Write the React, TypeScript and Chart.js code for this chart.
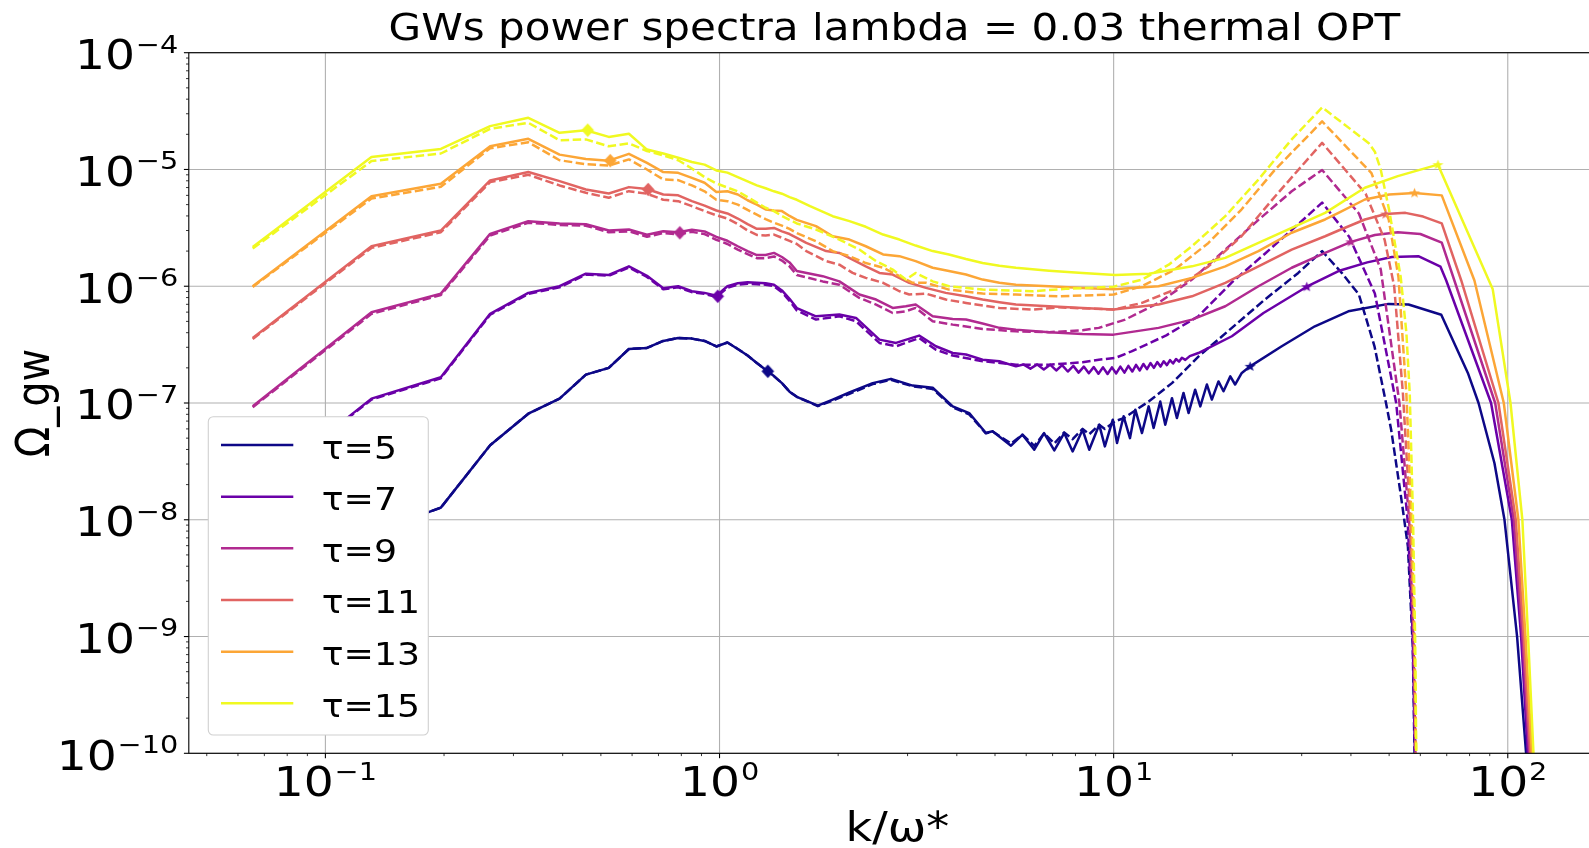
import React, { useEffect, useRef } from "react";
import { Chart, registerables } from "chart.js";

Chart.register(...registerables);

// ---------------- text & categories ----------------
const TITLE = "GWs power spectra lambda = 0.03 thermal OPT";
const X_LABEL = "k/ω*";
const Y_LABEL = "Ω_gw";
const TAUS = [5, 7, 9, 11, 13, 15];
const COLORS = ["#0d0887", "#6a00a8", "#b12a90", "#e16462", "#fca636", "#f0f921"];

// axis limits and labelled ticks
const X_MIN = 0.04502;
const X_MAX = 171.4;
const Y_MIN = 1e-10;
const Y_MAX = 1e-4;
const X_TICKS = [0.1, 1, 10, 100];
const Y_TICKS = [1e-10, 1e-9, 1e-8, 1e-7, 1e-6, 1e-5, 1e-4];

// ---------------- series values: [k/ω*, Ω_gw] ----------------
const tau5Solid: [number, number][] = [
  [0.0654, 1.2e-9], [0.1309, 7.7e-9], [0.1963, 1.27e-8], [0.2618, 4.35e-8], [0.3272, 8.1e-8],
  [0.3927, 1.09e-7], [0.4581, 1.75e-7], [0.5236, 2.0e-7], [0.589, 2.9e-7], [0.6545, 2.96e-7],
  [0.7199, 3.4e-7], [0.7854, 3.6e-7], [0.8508, 3.56e-7], [0.9163, 3.4e-7], [0.9817, 3.05e-7],
  [1.0472, 3.3e-7], [1.1126, 2.9e-7], [1.1781, 2.55e-7], [1.2435, 2.2e-7], [1.309, 1.93e-7],
  [1.3744, 1.7e-7], [1.4399, 1.48e-7], [1.5053, 1.25e-7], [1.5708, 1.13e-7], [1.776, 9.5e-8],
  [1.937, 1.07e-7], [2.136, 1.23e-7], [2.447, 1.48e-7], [2.723, 1.61e-7], [3.09, 1.41e-7],
  [3.474, 1.35e-7], [3.905, 9.36e-8], [4.3, 8.2e-8], [4.74, 5.53e-8], [4.93, 5.72e-8],
  [5.49, 4.31e-8], [5.87, 5.35e-8], [6.29, 3.98e-8], [6.66, 5.53e-8], [7.07, 3.93e-8],
  [7.49, 5.53e-8], [7.87, 3.85e-8], [8.34, 5.9e-8], [8.67, 3.98e-8], [9.19, 6.52e-8],
  [9.5, 4.25e-8], [9.95, 7.2e-8], [10.2, 4.54e-8], [10.6, 7.69e-8], [11.0, 5.0e-8],
  [11.35, 8.77e-8], [11.8, 5.53e-8], [12.27, 9.36e-8], [12.63, 6.1e-8], [13.13, 1.03e-7],
  [13.52, 6.52e-8], [14.06, 1.1e-7], [14.47, 7.43e-8], [15.04, 1.22e-7], [15.49, 8.2e-8],
  [16.1, 1.3e-7], [16.59, 9.36e-8], [17.24, 1.44e-7], [17.75, 1.07e-7], [18.45, 1.53e-7],
  [19.0, 1.26e-7], [19.77, 1.69e-7], [20.33, 1.44e-7], [21.14, 1.81e-7], [22.2, 2.06e-7],
  [26.7, 3.06e-7], [32.4, 4.54e-7], [39.4, 6.1e-7], [49.8, 7.06e-7], [56, 6.97e-7],
  [67.8, 5.7e-7], [79.2, 1.81e-7], [84.3, 1e-7], [92.5, 3.06e-8], [98.1, 1e-8],
  [105.6, 1e-9], [111.3, 1e-10], [113, 1e-12],
];
const tau5Dashed: [number, number][] = [
  [0.0654, 1.2e-9], [0.1309, 7.7e-9], [0.1963, 1.27e-8], [0.2618, 4.35e-8], [0.3272, 8.1e-8],
  [0.3927, 1.09e-7], [0.4581, 1.75e-7], [0.5236, 2.0e-7], [0.589, 2.9e-7], [0.6545, 2.96e-7],
  [0.7199, 3.4e-7], [0.7854, 3.6e-7], [0.8508, 3.56e-7], [0.9163, 3.4e-7], [0.9817, 3.05e-7],
  [1.0472, 3.3e-7], [1.1126, 2.9e-7], [1.1781, 2.55e-7], [1.2435, 2.2e-7], [1.309, 1.93e-7],
  [1.3744, 1.7e-7], [1.4399, 1.48e-7], [1.5053, 1.25e-7], [1.5708, 1.13e-7], [1.776, 9.4e-8],
  [1.937, 1.05e-7], [2.136, 1.2e-7], [2.447, 1.45e-7], [2.723, 1.58e-7], [3.09, 1.39e-7],
  [3.474, 1.32e-7], [3.905, 9.2e-8], [4.3, 8.0e-8], [4.74, 5.5e-8], [4.93, 5.7e-8],
  [5.49, 4.5e-8], [5.87, 5.35e-8], [6.29, 4.3e-8], [6.66, 5.5e-8], [7.07, 4.5e-8],
  [7.49, 5.6e-8], [7.87, 4.9e-8], [8.34, 6.0e-8], [8.67, 5.4e-8], [9.19, 6.5e-8],
  [9.5, 6.0e-8], [10.1, 7.0e-8], [10.6, 7.4e-8], [12.27, 1.03e-7], [14.06, 1.48e-7],
  [16.43, 2.51e-7], [19.95, 4.4e-7], [24.2, 7.7e-7], [29.4, 1.3e-6], [33.8, 2.0e-6],
  [38, 1.29e-6], [41.9, 8.5e-7], [45.9, 3.06e-7], [49.1, 1e-7], [50.6, 5.9e-8],
  [53.6, 1.58e-8], [55.8, 5.9e-9], [57.4, 8.2e-10], [58, 1e-10], [58.3, 1e-12],
];

const tau7Solid: [number, number][] = [
  [0.0654, 1.7e-8], [0.1309, 1.09e-7], [0.1963, 1.66e-7], [0.2618, 5.8e-7], [0.3272, 8.77e-7],
  [0.3927, 1.0e-6], [0.4581, 1.28e-6], [0.5236, 1.25e-6], [0.589, 1.48e-6], [0.6545, 1.23e-6],
  [0.7199, 9.6e-7], [0.7854, 1.0e-6], [0.8508, 9.06e-7], [0.9163, 8.77e-7], [0.9817, 8.3e-7],
  [1.0472, 1.0e-6], [1.1126, 1.06e-6], [1.1781, 1.08e-6], [1.2435, 1.07e-6], [1.309, 1.06e-6],
  [1.3744, 1.03e-6], [1.4399, 9.2e-7], [1.5053, 7.8e-7], [1.5708, 6.5e-7], [1.757, 5.53e-7],
  [2.014, 5.72e-7], [2.22, 5.35e-7], [2.545, 3.49e-7], [2.804, 3.27e-7], [3.21, 3.78e-7],
  [3.54, 3.06e-7], [3.905, 2.68e-7], [4.22, 2.6e-7], [4.65, 2.35e-7], [5.13, 2.28e-7],
  [5.65, 2.06e-7], [5.9, 2.14e-7], [6.15, 1.97e-7], [6.4, 2.14e-7], [6.65, 1.94e-7],
  [6.9, 2.13e-7], [7.15, 1.9e-7], [7.4, 2.11e-7], [7.65, 1.86e-7], [7.9, 2.08e-7],
  [8.15, 1.82e-7], [8.4, 2.05e-7], [8.65, 1.8e-7], [8.9, 2.03e-7], [9.15, 1.78e-7],
  [9.4, 2.02e-7], [9.65, 1.77e-7], [9.9, 2.02e-7], [10.15, 1.79e-7], [10.4, 2.05e-7],
  [10.65, 1.82e-7], [10.9, 2.08e-7], [11.15, 1.86e-7], [11.4, 2.12e-7], [11.65, 1.9e-7],
  [11.9, 2.16e-7], [12.15, 1.95e-7], [12.4, 2.2e-7], [12.65, 2.0e-7], [12.9, 2.24e-7],
  [13.15, 2.05e-7], [13.4, 2.28e-7], [13.65, 2.11e-7], [13.9, 2.33e-7], [14.15, 2.18e-7],
  [14.4, 2.38e-7], [14.65, 2.26e-7], [14.9, 2.44e-7], [15.2, 2.34e-7], [15.6, 2.52e-7],
  [16.4, 2.68e-7], [19.95, 3.73e-7], [24, 5.9e-7], [30.9, 9.9e-7], [37.2, 1.35e-6],
  [44, 1.6e-6], [50.8, 1.78e-6], [59.3, 1.81e-6], [67.5, 1.47e-6], [69.8, 1.12e-6],
  [90.7, 1e-7], [102.4, 1e-8], [108.1, 1e-9], [112.4, 1e-10], [114, 1e-12],
];
const tau7Dashed: [number, number][] = [
  [0.0654, 1.7e-8], [0.1309, 1.07e-7], [0.1963, 1.63e-7], [0.2618, 5.7e-7], [0.3272, 8.6e-7],
  [0.3927, 9.8e-7], [0.4581, 1.26e-6], [0.5236, 1.23e-6], [0.589, 1.45e-6], [0.6545, 1.2e-6],
  [0.7199, 9.4e-7], [0.7854, 9.8e-7], [0.8508, 8.9e-7], [0.9163, 8.6e-7], [0.9817, 8.1e-7],
  [1.0472, 9.7e-7], [1.1126, 1.03e-6], [1.1781, 1.05e-6], [1.2435, 1.04e-6], [1.309, 1.03e-6],
  [1.3744, 1.0e-6], [1.4399, 8.9e-7], [1.5053, 7.5e-7], [1.5708, 6.2e-7], [1.757, 5.18e-7],
  [2.014, 5.53e-7], [2.22, 5.01e-7], [2.545, 3.27e-7], [2.804, 3.06e-7], [3.21, 3.6e-7],
  [3.54, 2.86e-7], [3.905, 2.55e-7], [4.65, 2.28e-7], [5.65, 2.13e-7], [6.86, 2.13e-7],
  [8.34, 2.23e-7], [9.17, 2.35e-7], [10.1, 2.43e-7], [11.1, 2.77e-7], [11.6, 2.96e-7],
  [13.6, 3.8e-7], [16.4, 5.53e-7], [19.9, 1.07e-6], [24.2, 1.9e-6], [29.4, 3.4e-6],
  [33.8, 5.2e-6], [39.6, 2.65e-6], [46, 8.67e-7], [52.1, 1e-7], [55.7, 1e-8],
  [57.4, 1e-9], [58.1, 1e-10], [58.4, 1e-12],
];

const tau9Solid: [number, number][] = [
  [0.0654, 9.36e-8], [0.1309, 5.98e-7], [0.1963, 8.65e-7], [0.2618, 2.81e-6], [0.3272, 3.61e-6],
  [0.3927, 3.44e-6], [0.4581, 3.4e-6], [0.5236, 3.0e-6], [0.589, 3.06e-6], [0.6545, 2.76e-6],
  [0.7199, 2.96e-6], [0.7854, 2.9e-6], [0.8508, 3.05e-6], [0.9163, 2.95e-6], [0.9817, 2.65e-6],
  [1.0472, 2.45e-6], [1.1126, 2.2e-6], [1.1781, 2.0e-6], [1.2435, 1.85e-6], [1.309, 1.85e-6],
  [1.3744, 1.93e-6], [1.4399, 1.78e-6], [1.5053, 1.6e-6], [1.5708, 1.35e-6], [1.827, 1.22e-6],
  [2.014, 1.1e-6], [2.264, 8.49e-7], [2.496, 7.69e-7], [2.75, 6.52e-7], [2.97, 6.74e-7],
  [3.145, 6.97e-7], [3.474, 5.53e-7], [3.905, 5.25e-7], [4.22, 5.18e-7], [4.65, 4.79e-7],
  [5.13, 4.4e-7], [5.65, 4.25e-7], [6.86, 4.04e-7], [8.34, 3.9e-7], [10, 3.85e-7],
  [13, 4.4e-7], [15.8, 5.18e-7], [19.2, 6.74e-7], [23.3, 1.0e-6], [28.3, 1.44e-6],
  [34.4, 1.93e-6], [40, 2.4e-6], [46, 2.75e-6], [52.6, 2.9e-6], [60, 2.8e-6],
  [68, 2.36e-6], [73.2, 1.12e-6], [92.9, 1e-7], [103.6, 1e-8], [108.9, 1e-9],
  [113.3, 1e-10], [115, 1e-12],
];
const tau9Dashed: [number, number][] = [
  [0.0654, 9.2e-8], [0.1309, 5.8e-7], [0.1963, 8.4e-7], [0.2618, 2.72e-6], [0.3272, 3.5e-6],
  [0.3927, 3.35e-6], [0.4581, 3.3e-6], [0.5236, 2.9e-6], [0.589, 2.95e-6], [0.6545, 2.65e-6],
  [0.7199, 2.85e-6], [0.7854, 2.78e-6], [0.8508, 2.92e-6], [0.9163, 2.8e-6], [0.9817, 2.5e-6],
  [1.0472, 2.3e-6], [1.1126, 2.06e-6], [1.1781, 1.88e-6], [1.2435, 1.74e-6], [1.309, 1.74e-6],
  [1.3744, 1.8e-6], [1.4399, 1.66e-6], [1.5053, 1.48e-6], [1.5708, 1.25e-6], [1.827, 1.1e-6],
  [2.014, 1.03e-6], [2.264, 7.94e-7], [2.496, 6.97e-7], [2.75, 5.9e-7], [2.97, 6.1e-7],
  [3.145, 6.52e-7], [3.474, 5.01e-7], [3.905, 4.69e-7], [4.65, 4.31e-7], [5.65, 4.11e-7],
  [6.86, 4.04e-7], [8.34, 4.2e-7], [9.17, 4.4e-7], [10.7, 5.18e-7], [13, 7.2e-7],
  [15.8, 1.14e-6], [19.2, 2.06e-6], [23.3, 3.7e-6], [28.3, 6.5e-6], [33.8, 9.9e-6],
  [41.9, 4.2e-6], [47.6, 1.4e-6], [53.1, 1e-7], [56.2, 1e-8], [57.6, 1e-9],
  [58.3, 1e-10], [58.5, 1e-12],
];

const tau11Solid: [number, number][] = [
  [0.0654, 3.6e-7], [0.1309, 2.2e-6], [0.1963, 3.0e-6], [0.2618, 8.05e-6], [0.3272, 9.5e-6],
  [0.3927, 7.94e-6], [0.4581, 6.74e-6], [0.5236, 6.23e-6], [0.589, 7.06e-6], [0.6545, 6.8e-6],
  [0.7199, 6.1e-6], [0.7854, 6.0e-6], [0.8508, 5.35e-6], [0.9163, 4.9e-6], [0.9817, 4.45e-6],
  [1.0472, 4.2e-6], [1.1126, 3.8e-6], [1.1781, 3.4e-6], [1.2435, 3.1e-6], [1.309, 3.1e-6],
  [1.3744, 3.16e-6], [1.4399, 2.95e-6], [1.5053, 2.8e-6], [1.5708, 2.6e-6], [1.66, 2.35e-6],
  [1.864, 2.0e-6], [2.014, 1.93e-6], [2.176, 1.69e-6], [2.35, 1.48e-6], [2.545, 1.3e-6],
  [2.75, 1.26e-6], [3.03, 1.07e-6], [3.34, 9.68e-7], [3.75, 8.77e-7], [4.22, 8.2e-7],
  [4.65, 7.69e-7], [5.13, 7.3e-7], [5.65, 6.97e-7], [6.86, 6.74e-7], [8.34, 6.52e-7],
  [10, 6.31e-7], [13, 6.97e-7], [15.8, 8.2e-7], [19.2, 1.07e-6], [23.3, 1.48e-6],
  [28.3, 2.06e-6], [34.4, 2.68e-6], [37.2, 3.0e-6], [43.4, 3.73e-6], [49, 4.15e-6],
  [55, 4.25e-6], [61, 3.95e-6], [68, 3.45e-6], [76.2, 1.12e-6], [94.7, 1e-7],
  [104.8, 1e-8], [109.8, 1e-9], [114.1, 1e-10], [116, 1e-12],
];
const tau11Dashed: [number, number][] = [
  [0.0654, 3.54e-7], [0.1309, 2.13e-6], [0.1963, 2.9e-6], [0.2618, 7.79e-6], [0.3272, 9.0e-6],
  [0.3927, 7.3e-6], [0.4581, 6.31e-6], [0.5236, 5.72e-6], [0.589, 6.52e-6], [0.6545, 6.2e-6],
  [0.7199, 5.5e-6], [0.7854, 5.35e-6], [0.8508, 4.85e-6], [0.9163, 4.4e-6], [0.9817, 4.05e-6],
  [1.0472, 3.8e-6], [1.1126, 3.4e-6], [1.1781, 3.0e-6], [1.2435, 2.75e-6], [1.309, 2.72e-6],
  [1.3744, 2.77e-6], [1.4399, 2.6e-6], [1.5053, 2.45e-6], [1.5708, 2.3e-6], [1.66, 2.0e-6],
  [1.864, 1.64e-6], [2.014, 1.53e-6], [2.176, 1.3e-6], [2.35, 1.18e-6], [2.6, 1.07e-6],
  [2.86, 9.06e-7], [3.03, 8.49e-7], [3.34, 8.65e-7], [3.75, 7.69e-7], [4.22, 7.2e-7],
  [5.13, 6.52e-7], [6.23, 6.31e-7], [7.25, 6.6e-7], [10, 6.31e-7], [11.8, 7.2e-7],
  [14.3, 9.36e-7], [17.4, 1.48e-6], [21.1, 2.68e-6], [25.7, 5.9e-6], [33.8, 1.69e-5],
  [43.6, 6.2e-6], [48.7, 2.5e-6], [51.5, 1.0e-6], [54.2, 1.2e-7], [56.6, 1e-8],
  [57.8, 1e-9], [58.4, 1e-10], [58.6, 1e-12],
];

const tau13Solid: [number, number][] = [
  [0.0654, 1.0e-6], [0.1309, 5.9e-6], [0.1963, 7.54e-6], [0.2618, 1.58e-5], [0.3272, 1.83e-5],
  [0.3927, 1.34e-5], [0.4581, 1.23e-5], [0.5236, 1.19e-5], [0.589, 1.36e-5], [0.6545, 1.14e-5],
  [0.7199, 9.5e-6], [0.7854, 9.36e-6], [0.8508, 8.48e-6], [0.9163, 7.7e-6], [0.9817, 6.4e-6],
  [1.0472, 6.5e-6], [1.1126, 6.1e-6], [1.1781, 5.45e-6], [1.2435, 5.0e-6], [1.309, 4.55e-6],
  [1.3744, 4.45e-6], [1.4399, 4.4e-6], [1.5053, 4.0e-6], [1.5708, 3.7e-6], [1.757, 3.27e-6],
  [1.937, 2.68e-6], [2.136, 2.51e-6], [2.35, 2.2e-6], [2.6, 1.87e-6], [2.86, 1.81e-6],
  [3.145, 1.64e-6], [3.474, 1.44e-6], [3.82, 1.35e-6], [4.22, 1.26e-6], [4.65, 1.14e-6],
  [5.13, 1.07e-6], [5.65, 1.03e-6], [6.86, 1.0e-6], [8.34, 9.68e-7], [10, 9.4e-7],
  [13, 1.0e-6], [15.8, 1.18e-6], [19.2, 1.48e-6], [23.3, 2.0e-6], [28.3, 2.87e-6],
  [34.4, 3.73e-6], [37.2, 4.25e-6], [43.4, 5.53e-6], [50, 6.1e-6], [58, 6.3e-6],
  [68, 6.0e-6], [82.3, 1.12e-6], [97.7, 1e-7], [106.4, 1e-8], [110.9, 1e-9],
  [115.1, 1e-10], [117, 1e-12],
];
const tau13Dashed: [number, number][] = [
  [0.0654, 9.87e-7], [0.1309, 5.64e-6], [0.1963, 7.1e-6], [0.2618, 1.52e-5], [0.3272, 1.71e-5],
  [0.3927, 1.2e-5], [0.4581, 1.11e-5], [0.5236, 1.08e-5], [0.589, 1.22e-5], [0.6545, 1.0e-5],
  [0.7199, 8.2e-6], [0.7854, 8.1e-6], [0.8508, 7.3e-6], [0.9163, 6.5e-6], [0.9817, 5.5e-6],
  [1.0472, 5.35e-6], [1.1126, 5.0e-6], [1.1781, 4.5e-6], [1.2435, 4.1e-6], [1.309, 3.75e-6],
  [1.3744, 3.5e-6], [1.4399, 3.3e-6], [1.5053, 3.1e-6], [1.5708, 2.85e-6], [1.757, 2.43e-6],
  [1.937, 2.0e-6], [2.136, 1.81e-6], [2.35, 1.58e-6], [2.6, 1.44e-6], [2.86, 1.22e-6],
  [3.09, 1.07e-6], [3.34, 1.07e-6], [3.82, 9.36e-7], [4.65, 8.65e-7], [5.65, 8.49e-7],
  [7.25, 8.2e-7], [10, 8.49e-7], [11.8, 1.0e-6], [14.3, 1.39e-6], [17.4, 2.35e-6],
  [21.1, 4.54e-6], [25.7, 1.0e-5], [33.8, 2.58e-5], [45.1, 9.3e-6], [49.9, 3.7e-6],
  [52.8, 1.2e-6], [55.3, 1.2e-7], [57, 1e-8], [58, 1e-9], [58.5, 1e-10], [58.7, 1e-12],
];

const tau15Solid: [number, number][] = [
  [0.0654, 2.17e-6], [0.1309, 1.28e-5], [0.1963, 1.5e-5], [0.2618, 2.35e-5], [0.3272, 2.77e-5],
  [0.3927, 2.06e-5], [0.4581, 2.17e-5], [0.5236, 1.9e-5], [0.589, 2.02e-5], [0.6545, 1.48e-5],
  [0.7199, 1.37e-5], [0.7854, 1.26e-5], [0.8508, 1.16e-5], [0.9163, 1.1e-5], [0.9817, 9.8e-6],
  [1.0472, 9.4e-6], [1.1126, 8.6e-6], [1.1781, 7.9e-6], [1.2435, 7.3e-6], [1.309, 6.9e-6],
  [1.3744, 6.5e-6], [1.4399, 6.2e-6], [1.5053, 5.8e-6], [1.5708, 5.5e-6], [1.697, 4.85e-6],
  [1.937, 3.98e-6], [2.136, 3.61e-6], [2.35, 3.23e-6], [2.6, 2.77e-6], [2.86, 2.51e-6],
  [3.145, 2.23e-6], [3.474, 2.0e-6], [3.82, 1.87e-6], [4.22, 1.71e-6], [4.65, 1.58e-6],
  [5.13, 1.5e-6], [5.65, 1.44e-6], [6.86, 1.36e-6], [8.34, 1.3e-6], [10.1, 1.25e-6],
  [12.3, 1.28e-6], [15.8, 1.48e-6], [19.2, 1.75e-6], [23.3, 2.35e-6], [28.3, 3.16e-6],
  [34.4, 4.25e-6], [43.4, 6.97e-6], [52.6, 8.77e-6], [66.5, 1.1e-5], [91.6, 9.4e-7],
  [101.6, 1e-7], [108.9, 1e-8], [112.6, 1e-9], [116.2, 1e-10], [118, 1e-12],
];
const tau15Dashed: [number, number][] = [
  [0.0654, 2.1e-6], [0.1309, 1.18e-5], [0.1963, 1.37e-5], [0.2618, 2.23e-5], [0.3272, 2.51e-5],
  [0.3927, 1.78e-5], [0.4581, 1.81e-5], [0.5236, 1.58e-5], [0.589, 1.67e-5], [0.6545, 1.44e-5],
  [0.7199, 1.32e-5], [0.7854, 1.2e-5], [0.8508, 1.02e-5], [0.9163, 8.6e-6], [0.9817, 7.6e-6],
  [1.0472, 7.0e-6], [1.1126, 6.5e-6], [1.1781, 5.8e-6], [1.2435, 5.2e-6], [1.309, 4.7e-6],
  [1.3744, 4.4e-6], [1.4399, 4.0e-6], [1.5053, 3.7e-6], [1.5708, 3.45e-6], [1.757, 3.06e-6],
  [2.014, 2.51e-6], [2.264, 2.06e-6], [2.496, 1.64e-6], [2.75, 1.39e-6], [2.97, 1.14e-6],
  [3.145, 1.3e-6], [3.474, 1.1e-6], [3.82, 1.0e-6], [4.65, 9.36e-7], [6.23, 9.06e-7],
  [7.56, 9.5e-7], [10, 9.9e-7], [11.8, 1.14e-6], [13.8, 1.53e-6], [15.8, 2.2e-6],
  [19.2, 3.98e-6], [23.3, 8.2e-6], [28.3, 1.81e-5], [33.8, 3.4e-5], [44.4, 1.68e-5],
  [46, 1.42e-5], [47.6, 1.0e-5], [50, 4.5e-6], [53.5, 1.2e-6], [55.3, 4.0e-7],
  [56.4, 1.2e-7], [57.5, 1e-8], [58.2, 1e-9], [58.6, 1e-10], [58.8, 1e-12],
];

// marker positions (one per τ, same order as TAUS)
const diamondPoints: [number, number][] = [
  [1.326, 1.87e-7], [0.99, 8.2e-7], [0.793, 2.87e-6], [0.659, 6.74e-6], [0.528, 1.19e-5], [0.463, 2.17e-5],
];
const starPoints: [number, number][] = [
  [22.2, 2.06e-7], [30.9, 9.9e-7], [40.0, 2.4e-6], [49.0, 4.15e-6], [58.0, 6.3e-6], [66.5, 1.1e-5],
];

const SOLID_SERIES = [tau5Solid, tau7Solid, tau9Solid, tau11Solid, tau13Solid, tau15Solid];
const DASHED_SERIES = [tau5Dashed, tau7Dashed, tau9Dashed, tau11Dashed, tau13Dashed, tau15Dashed];

// ---------------- styling ----------------
const CANVAS_W = 1606;
const CANVAS_H = 848;
const VIEW_W = 1589;
const AREA_LEFT = 188.8;
const AREA_RIGHT = 1602.3;
const AREA_TOP = 52.7;
const AREA_BOTTOM = 753.3;
const SX = 1.15; // horizontal text stretch of the reference
const FONT = '"DejaVu Sans", "Liberation Sans", sans-serif';
const LINE_W = 2.5;

function toXY(arr: [number, number][]) {
  return arr.map(([x, y]) => ({ x, y }));
}

function makeDiamond(color: string) {
  const c = document.createElement("canvas");
  c.width = 15;
  c.height = 15;
  const g = c.getContext("2d")!;
  g.fillStyle = color;
  g.beginPath();
  g.moveTo(7.5, 0.8);
  g.lineTo(13.8, 7.5);
  g.lineTo(7.5, 14.2);
  g.lineTo(1.2, 7.5);
  g.closePath();
  g.fill();
  return c;
}

function makeStar(color: string) {
  const c = document.createElement("canvas");
  c.width = 13;
  c.height = 13;
  const g = c.getContext("2d")!;
  g.fillStyle = color;
  g.beginPath();
  for (let i = 0; i < 10; i++) {
    const r = i % 2 === 0 ? 5.3 : 2.2;
    const a = -Math.PI / 2 + (i * Math.PI) / 5;
    const px = 6.5 + r * Math.cos(a) * 1.1;
    const py = 6.8 + r * Math.sin(a);
    if (i === 0) g.moveTo(px, py);
    else g.lineTo(px, py);
  }
  g.closePath();
  g.fill();
  return c;
}

function drawText(
  ctx: CanvasRenderingContext2D,
  text: string,
  x: number,
  y: number,
  size: number,
  align: "left" | "center" | "right"
) {
  ctx.save();
  ctx.font = `${size}px ${FONT}`;
  ctx.fillStyle = "#000";
  ctx.textAlign = "left";
  ctx.textBaseline = "alphabetic";
  const w = ctx.measureText(text).width * SX;
  let left = x;
  if (align === "center") left = x - w / 2;
  else if (align === "right") left = x - w;
  ctx.translate(left, y);
  ctx.scale(SX, 1);
  ctx.fillText(text, 0, 0);
  ctx.restore();
}

function textWidth(ctx: CanvasRenderingContext2D, text: string, size: number) {
  ctx.save();
  ctx.font = `${size}px ${FONT}`;
  const w = ctx.measureText(text).width * SX;
  ctx.restore();
  return w;
}

const MAIN_SIZE = 41;
const SUP_SIZE = 25;
const SUP_RAISE = 16.5;

function drawPow10(
  ctx: CanvasRenderingContext2D,
  value: number,
  x: number,
  baseline: number,
  align: "center" | "right"
) {
  const e = Math.round(Math.log10(value));
  const main = "10";
  const sup = e < 0 ? "\u2212" + Math.abs(e) : String(e);
  const wm = textWidth(ctx, main, MAIN_SIZE);
  const ws = textWidth(ctx, sup, SUP_SIZE);
  const total = wm + ws + 1;
  const left = align === "center" ? x - total / 2 : x - total;
  drawText(ctx, main, left, baseline, MAIN_SIZE, "left");
  drawText(ctx, sup, left + wm + 1, baseline - SUP_RAISE, SUP_SIZE, "left");
}

const mplPlugin = {
  id: "mplDecor",
  beforeDatasetsDraw(chart: any) {
    const { ctx, chartArea: a, scales } = chart;
    const xs = scales.x;
    const ys = scales.y;
    ctx.save();
    ctx.strokeStyle = "#b0b0b0";
    ctx.lineWidth = 1.1;
    X_TICKS.forEach((t) => {
      const px = xs.getPixelForValue(t);
      ctx.beginPath();
      ctx.moveTo(px, a.top);
      ctx.lineTo(px, a.bottom);
      ctx.stroke();
    });
    Y_TICKS.forEach((t) => {
      const py = ys.getPixelForValue(t);
      ctx.beginPath();
      ctx.moveTo(a.left, py);
      ctx.lineTo(a.right, py);
      ctx.stroke();
    });
    ctx.restore();
  },
  afterDatasetsDraw(chart: any) {
    const { ctx, chartArea: a, scales } = chart;
    const xs = scales.x;
    const ys = scales.y;
    ctx.save();
    // spines
    ctx.strokeStyle = "#000";
    ctx.lineWidth = 1.1;
    ctx.strokeRect(a.left, a.top, a.right - a.left, a.bottom - a.top);

    // ticks (major + minor, outward)
    for (let e = -2; e <= 2; e++) {
      for (let m = 1; m <= 9; m++) {
        const v = m * Math.pow(10, e);
        if (v < X_MIN || v > X_MAX) continue;
        const px = xs.getPixelForValue(v);
        const len = m === 1 ? 4.9 : 2.8;
        ctx.lineWidth = m === 1 ? 1.1 : 0.8;
        ctx.beginPath();
        ctx.moveTo(px, a.bottom);
        ctx.lineTo(px, a.bottom + len);
        ctx.stroke();
      }
    }
    for (let e = -10; e <= -4; e++) {
      for (let m = 1; m <= 9; m++) {
        const v = m * Math.pow(10, e);
        if (v < Y_MIN * 0.999 || v > Y_MAX * 1.001) continue;
        const py = ys.getPixelForValue(v);
        const len = m === 1 ? 4.9 : 2.8;
        ctx.lineWidth = m === 1 ? 1.1 : 0.8;
        ctx.beginPath();
        ctx.moveTo(a.left - len, py);
        ctx.lineTo(a.left, py);
        ctx.stroke();
      }
    }
    ctx.restore();

    // tick labels
    X_TICKS.forEach((t) => drawPow10(ctx, t, xs.getPixelForValue(t), a.bottom + 43, "center"));
    Y_TICKS.forEach((t) => drawPow10(ctx, t, a.left - 10.5, ys.getPixelForValue(t) + 16.3, "right"));

    // title and axis labels
    const cx = (a.left + a.right) / 2;
    const cy = (a.top + a.bottom) / 2;
    drawText(ctx, TITLE, cx, 40, 36.6, "center");
    drawText(ctx, X_LABEL, cx + 3, 841, 40, "center");
    ctx.save();
    ctx.font = `40px ${FONT}`;
    ctx.fillStyle = "#000";
    ctx.textAlign = "center";
    ctx.textBaseline = "alphabetic";
    ctx.translate(48.7, cy);
    ctx.scale(SX, 1);
    ctx.rotate(-Math.PI / 2);
    ctx.fillText(Y_LABEL, 0, 0);
    ctx.restore();

    // legend
    const lx0 = a.left + 19.5;
    const lx1 = a.left + 239.5;
    const ly0 = a.bottom - 336.6;
    const ly1 = a.bottom - 18.3;
    const r = 5;
    ctx.save();
    ctx.beginPath();
    ctx.moveTo(lx0 + r, ly0);
    ctx.lineTo(lx1 - r, ly0);
    ctx.arcTo(lx1, ly0, lx1, ly0 + r, r);
    ctx.lineTo(lx1, ly1 - r);
    ctx.arcTo(lx1, ly1, lx1 - r, ly1, r);
    ctx.lineTo(lx0 + r, ly1);
    ctx.arcTo(lx0, ly1, lx0, ly1 - r, r);
    ctx.lineTo(lx0, ly0 + r);
    ctx.arcTo(lx0, ly0, lx0 + r, ly0, r);
    ctx.closePath();
    ctx.fillStyle = "#ffffff";
    ctx.fill();
    ctx.strokeStyle = "#d0d0d0";
    ctx.lineWidth = 1.1;
    ctx.stroke();
    TAUS.forEach((tau, i) => {
      const yy = ly0 + 28.3 + i * 51.66;
      ctx.strokeStyle = COLORS[i];
      ctx.lineWidth = LINE_W;
      ctx.beginPath();
      ctx.moveTo(lx0 + 12.7, yy);
      ctx.lineTo(lx0 + 85, yy);
      ctx.stroke();
      drawText(ctx, `τ=${tau}`, lx0 + 113.5, yy + 13.5, 31.5, "left");
    });
    ctx.restore();
  },
};

export default function App() {
  const canvasRef = useRef<HTMLCanvasElement | null>(null);

  useEffect(() => {
    const canvas = canvasRef.current;
    if (!canvas) return;
    const datasets: any[] = [];
    let idx = 0;
    TAUS.forEach((tau, i) => {
      const color = COLORS[i];
      datasets.push({
        type: "line",
        label: `τ=${tau}`,
        data: toXY(SOLID_SERIES[i]),
        borderColor: color,
        backgroundColor: color,
        borderWidth: LINE_W,
        pointRadius: 0,
        tension: 0,
        fill: false,
        borderJoinStyle: "round",
        borderCapStyle: "butt",
        order: -idx++,
      });
      datasets.push({
        type: "line",
        label: `τ=${tau} dashed`,
        data: toXY(DASHED_SERIES[i]),
        borderColor: color,
        backgroundColor: color,
        borderWidth: LINE_W,
        borderDash: [8.5, 3.5],
        pointRadius: 0,
        tension: 0,
        fill: false,
        borderJoinStyle: "round",
        borderCapStyle: "butt",
        order: -idx++,
      });
      datasets.push({
        type: "scatter",
        label: `τ=${tau} diamond`,
        data: toXY([diamondPoints[i]]),
        pointStyle: makeDiamond(color),
        pointRadius: 5,
        order: -idx++,
      });
      datasets.push({
        type: "scatter",
        label: `τ=${tau} star`,
        data: toXY([starPoints[i]]),
        pointStyle: makeStar(color),
        pointRadius: 5,
        order: -idx++,
      });
    });

    const chart = new Chart(canvas, {
      type: "line",
      data: { datasets },
      options: {
        responsive: false,
        animation: false,
        devicePixelRatio: 1,
        events: [],
        layout: {
          padding: { left: 0, top: AREA_TOP, right: CANVAS_W - AREA_RIGHT, bottom: 0 },
        },
        plugins: {
          legend: { display: false },
          title: { display: false },
          tooltip: { enabled: false },
        },
        scales: {
          x: {
            type: "logarithmic",
            position: "bottom",
            min: X_MIN,
            max: X_MAX,
            ticks: { display: false },
            grid: { display: false, drawTicks: false },
            border: { display: false },
            afterFit: (s: any) => {
              s.height = CANVAS_H - AREA_BOTTOM;
            },
          },
          y: {
            type: "logarithmic",
            position: "left",
            min: Y_MIN,
            max: Y_MAX,
            ticks: { display: false },
            grid: { display: false, drawTicks: false },
            border: { display: false },
            afterFit: (s: any) => {
              s.width = AREA_LEFT;
            },
          },
        },
      } as any,
      plugins: [mplPlugin],
    });
    return () => chart.destroy();
  }, []);

  return (
    <div
      style={{
        position: "absolute",
        left: 0,
        top: 0,
        width: VIEW_W,
        height: CANVAS_H,
        overflow: "hidden",
        background: "#fff",
      }}
    >
      <canvas
        ref={canvasRef}
        width={CANVAS_W}
        height={CANVAS_H}
        style={{ width: CANVAS_W, height: CANVAS_H, display: "block" }}
      />
    </div>
  );
}
